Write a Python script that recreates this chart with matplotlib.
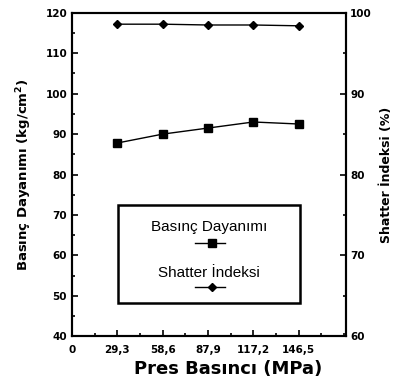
import matplotlib
matplotlib.use('Agg')
import matplotlib.pyplot as plt
from matplotlib.lines import Line2D
from matplotlib.patches import Rectangle
from matplotlib.ticker import MultipleLocator

plt.rcParams['font.family'] = ['DejaVu Sans']

# veriler
pres = [29.3, 58.6, 87.9, 117.2, 146.5]
pres_labels = ['0', '29,3', '58,6', '87,9', '117,2', '146,5']
dayanim = [87.8, 90.0, 91.5, 93.0, 92.5]
shatter = [98.6, 98.6, 98.5, 98.5, 98.4]

fig = plt.figure(figsize=(3.98, 3.90), dpi=100)
ax = fig.add_axes([0.181, 0.138, 0.688, 0.829])
ax2 = ax.twinx()

ax.plot(pres, dayanim, color='black', lw=1.0, marker='s', ms=5.5)
ax2.plot(pres, shatter, color='black', lw=1.0, marker='D', ms=4)

ax.set_xlim(0, 177)
ax.set_ylim(40, 120)
ax2.set_ylim(60, 100)

ax.set_xticks([0] + pres)
ax.set_xticklabels(pres_labels)
ax.xaxis.set_minor_locator(MultipleLocator(14.65))
ax.yaxis.set_major_locator(MultipleLocator(10))
ax.yaxis.set_minor_locator(MultipleLocator(5))
ax2.yaxis.set_major_locator(MultipleLocator(10))
ax2.yaxis.set_minor_locator(MultipleLocator(5))

for a in (ax, ax2):
    a.tick_params(which='both', direction='in', labelsize=7.5, width=1.2)
    a.tick_params(which='major', length=4)
    a.tick_params(which='minor', length=2)
    for s in a.spines.values():
        s.set_linewidth(1.5)
    for lab in a.get_xticklabels() + a.get_yticklabels():
        lab.set_fontweight('bold')
ax.tick_params(axis='x', pad=6)
ax2.tick_params(axis='y', pad=3)

ax.set_xlabel('Pres Basıncı (MPa)', fontsize=13, fontweight='bold', labelpad=4)
ax.xaxis.label.set_x(0.57)
ax.set_ylabel('Basınç Dayanımı (kg/cm$^\\mathbf{2}$)', fontsize=9.5,
              fontweight='bold', labelpad=8)
ax2.set_ylabel('Shatter İndeksi (%)', fontsize=9, fontweight='bold', labelpad=6)

# lejant kutusu: etiket üstte, işaret altta
ax.add_patch(Rectangle((0.168, 0.102), 0.664, 0.304, transform=ax.transAxes,
                       fill=False, lw=1.8, color='black', zorder=5))
ax.text(0.5, 0.337, 'Basınç Dayanımı', transform=ax.transAxes, ha='center',
        va='center', fontsize=11, family='Liberation Sans')
ax.add_line(Line2D([0.449, 0.558], [0.288, 0.288], transform=ax.transAxes,
                   color='black', lw=1.0))
ax.add_line(Line2D([0.511], [0.288], transform=ax.transAxes, color='black',
                   marker='s', ms=5.5))
ax.text(0.5, 0.195, 'Shatter İndeksi', transform=ax.transAxes, ha='center',
        va='center', fontsize=11, family='Liberation Sans')
ax.add_line(Line2D([0.449, 0.558], [0.152, 0.152], transform=ax.transAxes,
                   color='black', lw=1.0))
ax.add_line(Line2D([0.511], [0.152], transform=ax.transAxes, color='black',
                   marker='D', ms=4))

fig.savefig('out.png', dpi=100)
